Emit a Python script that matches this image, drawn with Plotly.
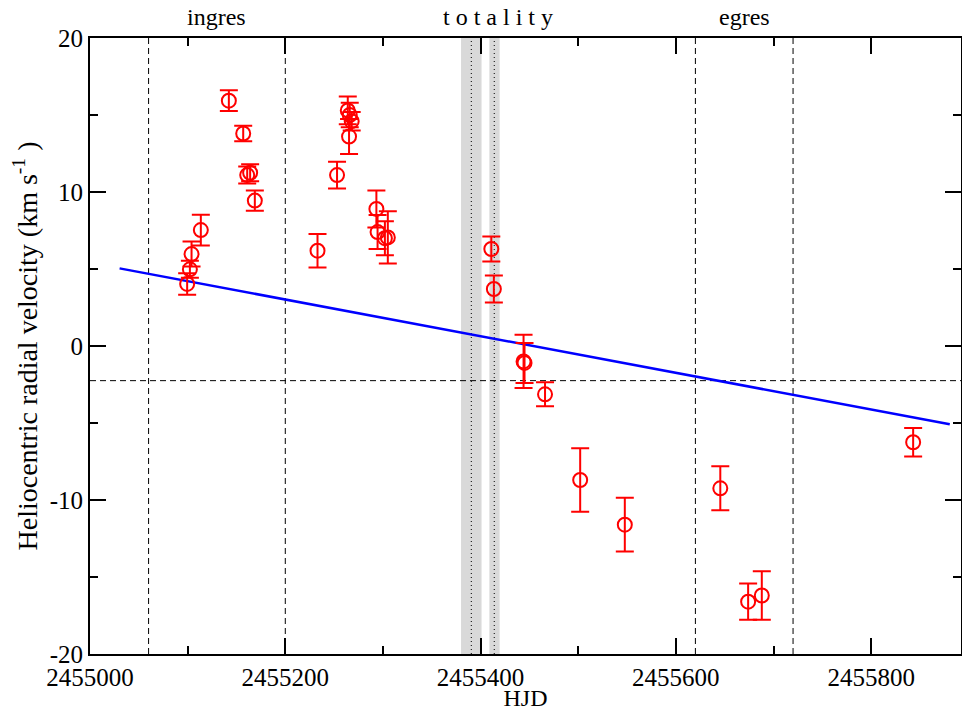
import plotly.graph_objects as go

# Radial velocity measurements
hjd = [2455099.5, 2455102.3, 2455104.0, 2455113.5, 2455142.2, 2455156.9, 2455161.0,
       2455164.0, 2455168.8, 2455233.0, 2455253.0, 2455264.0, 2455265.3, 2455266.0,
       2455268.0, 2455293.3, 2455294.5, 2455302.0, 2455305.0, 2455411.0, 2455413.6,
       2455444.0, 2455445.0, 2455466.0, 2455502.0, 2455547.7, 2455645.5, 2455674.0,
       2455688.0, 2455843.0]
rv = [4.03, 4.98, 5.97, 7.53, 15.93, 13.8, 11.1,
      11.25, 9.44, 6.19, 11.1, 15.3, 13.6, 15.0,
      14.6, 8.9, 7.4, 7.0, 7.05, 6.3, 3.7,
      -1.0, -1.1, -3.14, -8.7, -11.6, -9.24, -16.6,
      -16.2, -6.25]
rv_err = [0.7, 0.55, 0.81, 1.0, 0.67, 0.5, 0.55,
          0.55, 0.65, 1.09, 0.87, 0.9, 1.14, 0.8,
          0.6, 1.2, 1.1, 1.1, 1.7, 0.81, 0.87,
          1.73, 1.3, 0.78, 2.06, 1.74, 1.43, 1.18,
          1.57, 0.92]

# Linear trend
fit_x = [2455030.3, 2455880.5]
fit_y = [5.04, -5.08]

# Phase markers
ingress_lines = [2455060, 2455200]
egress_lines = [2455620, 2455720]
totality_bands = [(2455380, 2455401), (2455409, 2455419.5)]
totality_dotted = [2455390.5, 2455414]
systemic_v = -2.25

phase_labels = ["ingres", "t o t a l i t y", "egres"]
phase_label_x = [2455130, 2455418, 2455670]

x_range = [2455000, 2455892]
y_range = [-20, 20]
x_ticks = [2455000, 2455200, 2455400, 2455600, 2455800]
y_ticks = [-20, -10, 0, 10, 20]
y_ticktext = ["-20", "-10", "0", "10", "20"]

FONT = "Liberation Serif"

fig = go.Figure()

shapes = []
for (a, b) in totality_bands:
    shapes.append(dict(type="rect", xref="x", yref="y", x0=a, x1=b, y0=y_range[0], y1=y_range[1],
                       fillcolor="#d9d9d9", line=dict(width=0), layer="below"))
for xv in totality_dotted:
    shapes.append(dict(type="line", xref="x", yref="y", x0=xv, x1=xv, y0=y_range[0], y1=y_range[1],
                       line=dict(color="black", width=1, dash="1px,3px"), layer="below"))
for xv in ingress_lines + egress_lines:
    shapes.append(dict(type="line", xref="x", yref="y", x0=xv, x1=xv, y0=y_range[0], y1=y_range[1],
                       line=dict(color="black", width=1, dash="6px,4px"), layer="below"))
shapes.append(dict(type="line", xref="x", yref="y", x0=x_range[0], x1=x_range[1], y0=systemic_v, y1=systemic_v,
                   line=dict(color="black", width=1, dash="6px,4px"), layer="below"))

fig.add_trace(go.Scatter(x=fit_x, y=fit_y, mode="lines",
                         line=dict(color="#0000ff", width=2.5), showlegend=False))

fig.add_trace(go.Scatter(x=hjd, y=rv, mode="markers",
                         marker=dict(symbol="circle-open", size=14, color="#ff0000", line=dict(width=2, color="#ff0000")),
                         error_y=dict(type="data", array=rv_err, visible=True, color="#ff0000", thickness=2, width=9),
                         showlegend=False))

annotations = []
for txt, xv in zip(phase_labels, phase_label_x):
    annotations.append(dict(x=xv, y=1.0, xref="x", yref="paper", text=txt, showarrow=False,
                            yanchor="bottom", yshift=6, font=dict(family=FONT, size=24, color="black")))

fig.update_layout(
    width=962, height=711,
    margin=dict(l=90, r=1, t=38, b=57, autoexpand=False),
    plot_bgcolor="white", paper_bgcolor="white",
    shapes=shapes, annotations=annotations,
    font=dict(family=FONT, size=24, color="black"),
)

fig.update_xaxes(
    range=x_range, tickvals=x_ticks, tickformat="d", automargin=False,
    showgrid=False, zeroline=False,
    showline=True, linecolor="black", linewidth=2, mirror="ticks",
    ticks="inside", ticklen=16, tickwidth=1.5, tickcolor="black",
    minor=dict(dtick=100, tick0=2455000, ticks="inside", ticklen=8, tickwidth=1.5, tickcolor="black", showgrid=False),
    title=dict(text="HJD", font=dict(family=FONT, size=24), standoff=2),
    tickfont=dict(family=FONT, size=25),
)
fig.update_yaxes(
    range=y_range, tickvals=y_ticks, ticktext=y_ticktext, automargin=False,
    showgrid=False, zeroline=False,
    showline=True, linecolor="black", linewidth=2, mirror="ticks",
    ticks="inside", ticklen=16, tickwidth=1.5, tickcolor="black",
    minor=dict(dtick=5, tick0=0, ticks="inside", ticklen=8, tickwidth=1.5, tickcolor="black", showgrid=False),
    title=dict(text="Heliocentric radial velocity (km s<sup>-1</sup> )", font=dict(family=FONT, size=28), standoff=4),
    tickfont=dict(family=FONT, size=25),
)

fig.write_html("out.html", config={"displayModeBar": False},
               post_script="document.body.style.margin='0';document.body.style.overflow='hidden';")
